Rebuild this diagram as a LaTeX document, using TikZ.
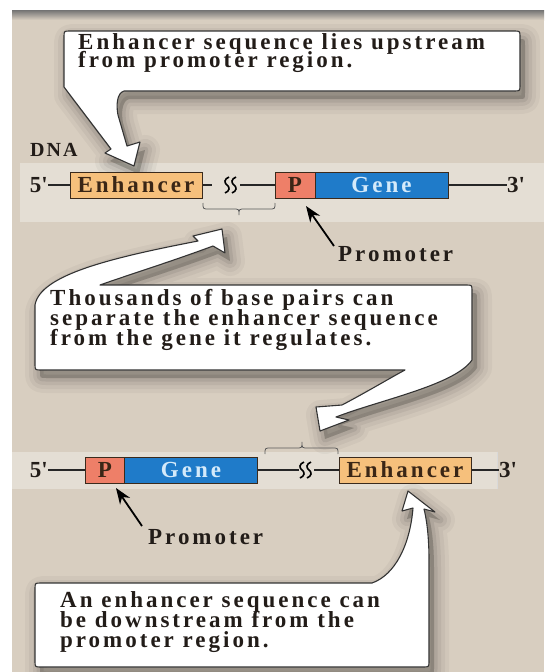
\documentclass[tikz,border=0pt]{standalone}
\usepackage{fontspec}
\setmainfont{Liberation Serif}
\newfontfamily\lsp{Liberation Serif}[LetterSpace=13]
\newfontfamily\lspb{Liberation Serif}[LetterSpace=10]
\usetikzlibrary{arrows.meta}
\definecolor{bg}{HTML}{D8CEC0}
\definecolor{band}{HTML}{E4DED4}
\definecolor{txt}{HTML}{221C18}
\definecolor{enhfill}{HTML}{F6C07C}
\definecolor{pfill}{HTML}{EE7F68}
\definecolor{genefill}{HTML}{1F7BC9}
\definecolor{genetxt}{HTML}{D4EAFA}
\definecolor{boxline}{HTML}{3A2A1C}
\definecolor{brn}{HTML}{3A2616}
\tikzset{
  ctext/.style={anchor=base west, inner sep=0pt, text=txt, font=\lsp\bfseries\fontsize{23}{18}\selectfont},
  callout/.style={fill=white, draw=black!80, line width=1.1pt, line join=round},
  dnabox/.style={draw=boxline, line width=1pt, minimum height=26pt, inner sep=0pt, font=\lsp\bfseries\fontsize{23}{22}\selectfont},
  enhbox/.style={dnabox, fill=enhfill, text=brn, minimum width=132pt},
  pbox/.style={dnabox, fill=pfill, text=brn, minimum width=40pt},
  genebox/.style={dnabox, fill=genefill, text=genetxt, minimum width=133pt},
  endlab/.style={inner sep=0pt, text=txt, font=\lspb\bfseries\fontsize{23}{22}\selectfont},
  dna/.style={draw=black!85, line width=1.4pt},
  parrow/.style={draw=black, line width=1.8pt, -{Stealth[length=16pt,width=12pt]}},
  brace/.style={draw=black!65, line width=0.8pt},
  squigl/.style={draw=black, line width=1.6pt},
}
\def\calA{(64,37) .. controls (64,31) .. (70,31) -- (514,31) .. controls (520,31) .. (520,37) -- (520,85) .. controls (520,91) .. (514,91) -- (124,91) .. controls (117,93) and (116,105) .. (118,115) -- (127,146) -- (140,142) -- (134,166) -- (105,153) -- (111,149) -- (64,87) -- cycle}
\def\calB{(100,285) -- (466,285) .. controls (472,285) .. (472,291) -- (472,360) .. controls (455,385) and (380,400) .. (336,417) -- (349,420) -- (320,431) -- (316,407) -- (342,405) .. controls (365,393) and (390,378) .. (405,370) -- (41,370) .. controls (35,370) .. (35,364) -- (35,305) .. controls (40,275) and (110,258) .. (198,241) -- (193,236) -- (222,229) -- (225,253) -- (213,246) .. controls (170,262) and (125,276) .. (100,285) -- cycle}
\def\calC{(35,589) .. controls (35,583) .. (41,583) -- (372,583) .. controls (395,575) and (410,545) .. (413,508) -- (402,511) -- (408,491) -- (435,512) -- (424,509) .. controls (428,525) and (429,545) .. (429,560) -- (429,661) .. controls (429,667) .. (423,667) -- (41,667) .. controls (35,667) .. (35,661) -- cycle}
\begin{document}
\begin{tikzpicture}[x=1pt,y=-1pt]
\useasboundingbox (0,0) rectangle (544,672);
\fill[white] (0,0) rectangle (544,672);
\fill[bg] (12,10) rectangle (544,672);
\shade[top color=black!55, bottom color=bg] (12,10) rectangle (544,20);
\fill[band] (20,163) rectangle (544,222);
\fill[band] (12,452) rectangle (497,489);
\draw[white!85!black, line width=0.6pt] (497,452) -- (497,489);
% shadows
\foreach \w/\o in {30/0.035,22/0.045,14/0.055,7/0.07} {
  \begin{scope}[shift={(5,8)}]
    \path[fill=black, fill opacity=\o, draw=black, draw opacity=\o, line width=\w pt, line join=round] \calA;
    \path[fill=black, fill opacity=\o, draw=black, draw opacity=\o, line width=\w pt, line join=round] \calB;
    \path[fill=black, fill opacity=\o, draw=black, draw opacity=\o, line width=\w pt, line join=round] \calC;
  \end{scope}
}
% callouts
\path[callout] \calA;
\path[callout] \calB;
\path[callout] \calC;
\node[ctext] (t1a) at (78,49) {Enhancer sequence lies upstream};
\node[ctext] (t1b) at (78,67) {from promoter region.};
\node[ctext] (t2a) at (50,305) {Thousands of base pairs can};
\node[ctext] (t2b) at (50,325) {separate the enhancer sequence};
\node[ctext] (t2c) at (50,345) {from the gene it regulates.};
\node[ctext] (t3a) at (60,607) {An enhancer sequence can};
\node[ctext] (t3b) at (60,627) {be downstream from the};
\node[ctext] (t3c) at (60,647) {promoter region.};
% DNA label
\node[endlab, anchor=base west, font=\lspb\bfseries\fontsize{20}{20}\selectfont] (dnal) at (30,156) {DNA};
% row 1
\node[endlab, anchor=east] (f1) at (48,185) {5\textquotesingle};
\node[enhbox] (enh1) at (136,185) {Enhancer};
\node[pbox] (p1) at (295,185) {P};
\node[genebox] (gene1) at (381.5,185) {Gene};
\node[endlab, anchor=west] (th1) at (507,185) {3\textquotesingle};
\coordinate (g1a) at (212,185);
\coordinate (g1b) at (240,185);
\draw[dna] (f1.east) -- (enh1.west);
\draw[dna] (enh1.east) -- (g1a);
\draw[dna] (g1b) -- (p1.west);
\draw[dna] (gene1.east) -- (th1.west);
\draw[squigl] (229,177) .. controls (224,179) and (224,183) .. (227,185) .. controls (230,187) and (230,191) .. (225,193);
\draw[squigl] (236,177) .. controls (231,179) and (231,183) .. (234,185) .. controls (237,187) and (237,191) .. (232,193);
\draw[brace] (203,203) .. controls (203,209) .. (209,209) -- (233,209) .. controls (239,209) .. (239,215) .. controls (239,209) .. (245,209) -- (269,209) .. controls (275,209) .. (275,203);
\node[endlab, anchor=base west, font=\lsp\bfseries\fontsize{23}{22}\selectfont] (pl1) at (338,261) {Promoter};
\coordinate (pa1) at (334,246);
\coordinate (pt1) at (306,206);
\draw[parrow] (pa1) -- (pt1);
% row 2
\node[endlab, anchor=east] (f2) at (48,470) {5\textquotesingle};
\node[pbox] (p2) at (105,470) {P};
\node[genebox] (gene2) at (191,470) {Gene};
\node[enhbox] (enh2) at (405,470) {Enhancer};
\node[endlab, anchor=west] (th2) at (499,470) {3\textquotesingle};
\coordinate (g2a) at (299,470);
\coordinate (g2b) at (314,470);
\draw[dna] (f2.east) -- (p2.west);
\draw[dna] (gene2.east) -- (g2a);
\draw[dna] (g2b) -- (enh2.west);
\draw[dna] (enh2.east) -- (th2.west);
\draw[squigl] (304,462) .. controls (299,464) and (299,468) .. (302,470) .. controls (305,472) and (305,476) .. (300,478);
\draw[squigl] (311,462) .. controls (306,464) and (306,468) .. (309,470) .. controls (312,472) and (312,476) .. (307,478);
\draw[brace] (265,454) .. controls (265,448) .. (271,448) -- (296,448) .. controls (302,448) .. (302,442) .. controls (302,448) .. (308,448) -- (332,448) .. controls (338,448) .. (338,454);
\node[endlab, anchor=base west, font=\lsp\bfseries\fontsize{23}{22}\selectfont] (pl2) at (148,544) {Promoter};
\coordinate (pa2) at (142,526);
\coordinate (pt2) at (116,488);
\draw[parrow] (pa2) -- (pt2);
\end{tikzpicture}
\end{document}
